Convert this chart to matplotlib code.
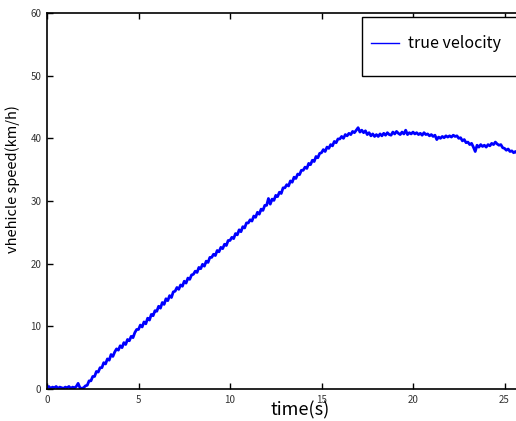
import numpy as np
import matplotlib
matplotlib.use("Agg")
import matplotlib.pyplot as plt
from matplotlib import font_manager
from matplotlib.patches import Rectangle

speed = [
    0.2, 0.4, 0.1, 0.3, 0.2, 0.4, 0.1, 0.3, 0.2, 0.1,
    0.3, 0.2, 0.4, 0.1, 0.3, 0.2, 0.4, 0.9, 0.2, 0.1,
    0.2, 0.5, 0.6, 1.3, 1.3, 2.0, 2.0, 2.8, 2.7, 3.4,
    3.4, 4.2, 4.0, 4.8, 4.6, 5.5, 5.2, 5.9, 6.4, 6.2,
    6.9, 6.6, 7.4, 7.1, 7.9, 7.7, 8.4, 8.2, 9.0, 9.5,
    9.5, 10.2, 9.9, 10.7, 10.4, 11.3, 11.0, 11.9, 11.7, 12.5,
    12.4, 13.2, 12.9, 13.8, 13.5, 14.4, 14.1, 14.9, 14.6, 15.5,
    15.6, 16.2, 15.9, 16.6, 16.4, 17.2, 16.9, 17.7, 17.5, 18.2,
    18.3, 18.8, 18.6, 19.4, 19.2, 19.9, 19.6, 20.4, 20.2, 21.0,
    21.0, 21.5, 21.3, 22.1, 21.9, 22.6, 22.4, 23.1, 22.9, 23.7,
    23.7, 24.2, 24.0, 24.8, 24.6, 25.4, 25.1, 25.9, 25.7, 26.5,
    26.5, 27.0, 26.8, 27.6, 27.4, 28.2, 27.9, 28.7, 28.5, 29.3,
    29.3, 30.4, 29.5, 30.3, 30.1, 30.9, 30.7, 31.4, 31.2, 32.1,
    32.1, 32.6, 32.4, 33.2, 33.0, 33.8, 33.6, 34.3, 34.2, 34.9,
    34.9, 35.4, 35.2, 36.0, 35.8, 36.5, 36.3, 37.1, 36.9, 37.6,
    37.7, 38.2, 37.9, 38.6, 38.4, 39.0, 38.8, 39.5, 39.3, 39.9,
    39.9, 40.3, 40.0, 40.6, 40.4, 40.8, 40.6, 41.1, 40.9, 41.3,
    41.7, 41.0, 41.3, 40.9, 41.2, 40.6, 40.9, 40.4, 40.7, 40.3,
    40.6, 40.3, 40.7, 40.4, 40.8, 40.5, 40.9, 40.6, 40.5, 41.0,
    40.7, 41.1, 40.8, 40.6, 41.0, 40.7, 41.3, 40.6, 40.9, 40.7,
    41.0, 40.7, 40.9, 40.6, 40.8, 40.5, 40.9, 40.6, 40.7, 40.4,
    40.6, 40.3, 40.5, 39.8, 40.2, 40.0, 40.3, 40.1, 40.4, 40.2,
    40.4, 40.2, 40.5, 40.3, 40.4, 40.0, 40.1, 39.6, 39.8, 39.3,
    39.4, 39.0, 39.2, 38.6, 37.9, 38.9, 38.6, 39.0, 38.7, 38.9,
    38.6, 39.0, 38.8, 39.2, 39.0, 39.4, 39.1, 38.9, 39.0, 38.5,
    38.4, 38.1, 38.3, 37.9, 38.0, 37.7, 37.9, 37.6,
]
sample_step = 0.1
time = np.arange(len(speed)) * sample_step

xticks = [0, 5, 10, 15, 20, 25]
yticks = [0, 10, 20, 30, 40, 50, 60]
series_label = "true velocity"
xlabel = "time(s)"
ylabel = "vhehicle speed(km/h)"

# ---- fonts ----
available = {f.name for f in font_manager.fontManager.ttflist}
jp = "Noto Sans CJK JP" if "Noto Sans CJK JP" in available else "DejaVu Sans"
plt.rcParams["font.family"] = [jp, "DejaVu Sans"]

W, H = 516, 421
fig = plt.figure(figsize=(W / 100, H / 100), dpi=100)
ax = fig.add_axes([47 / W, 32 / H, 506 / W, 376 / H])

ax.plot(time, speed, color=(0, 0, 1), linewidth=2.0, label=series_label)

ax.set_xlim(0, 27.65)
ax.set_ylim(0, 60)
ax.set_xticks(xticks)
ax.set_yticks(yticks)
ax.tick_params(direction="in", length=4, width=1, top=True, right=True,
               labelsize=7, labelcolor="#333333", pad=4)
for s in ax.spines.values():
    s.set_linewidth(1.2)

ax.set_xlabel(xlabel, fontsize=13)
ax.xaxis.set_label_coords((300 - 47) / 506, -(401 - 389) / 376)
ax.set_ylabel(ylabel, fontsize=10.5)
ax.yaxis.set_label_coords((20 - 47) / 506, (389 - 179) / 376)

# legend box (extends past the right edge like the reference)
box = Rectangle((362 / W, (H - 76) / H), 200 / W, 59 / H, transform=fig.transFigure,
                facecolor="white", edgecolor="black", linewidth=1.0,
                clip_on=False, zorder=4.9)
fig.add_artist(box)
leg = fig.legend(loc="center left", bbox_to_anchor=(371 / W, (H - 44) / H),
                 frameon=False, prop={"size": 11.5}, borderpad=0,
                 handlelength=1.75, handletextpad=0.55, borderaxespad=0)
leg.set_zorder(5)
for h in leg.get_lines():
    h.set_linewidth(1.0)

fig.savefig("out.png", dpi=100)
